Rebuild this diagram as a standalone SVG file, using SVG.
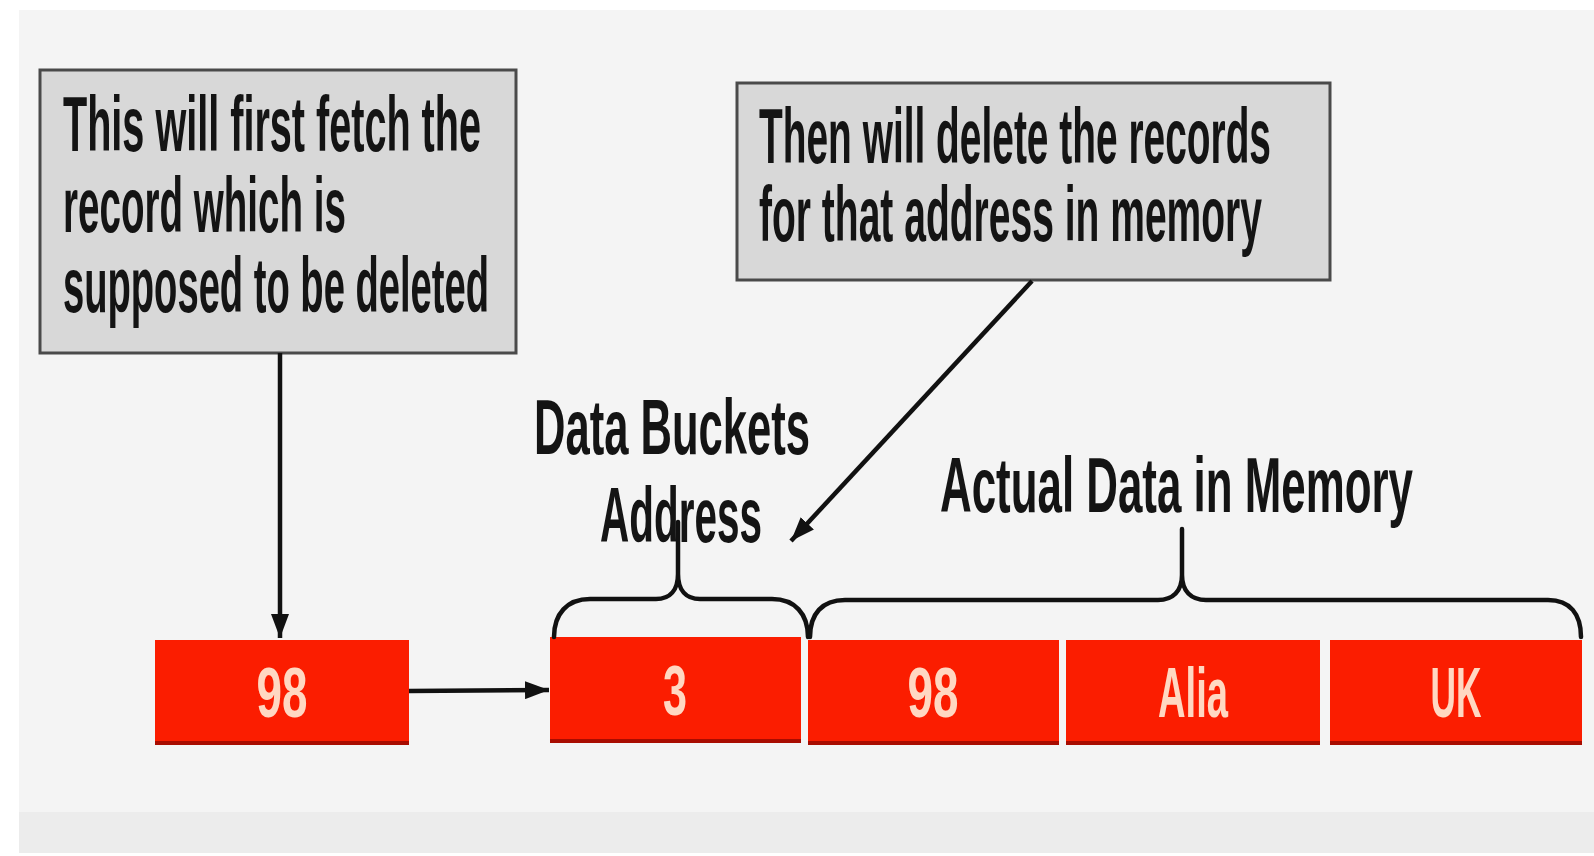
<svg xmlns="http://www.w3.org/2000/svg" width="1594" height="856" viewBox="0 0 1594 856">
  <style>
    .note rect { fill: #d8d8d8; stroke: #4a4a4a; stroke-width: 3; }
    .txt { font-family: "Liberation Sans", Arial, sans-serif; font-weight: bold; fill: #141414; }
    .big { font-size: 78px; }
    .cell rect.body { fill: #fb1d00; }
    .cell rect.edge { fill: #a80c00; }
    .cell text { font-family: "Liberation Sans", Arial, sans-serif; font-weight: bold; font-size: 71px; fill: #ffd8c2; text-anchor: middle; }
    .wire { fill: none; stroke: #111; stroke-width: 4.5; }
    .brace { fill: none; stroke: #111; stroke-width: 4.5; stroke-linejoin: round; stroke-linecap: round; }
  </style>
  <defs>
    <marker id="head" viewBox="0 0 24 18" refX="24" refY="9" markerWidth="24" markerHeight="18" markerUnits="userSpaceOnUse" orient="auto">
      <path d="M0,0 L24,9 L0,18 Z" fill="#111"/>
    </marker>
  </defs>

  <!-- backdrop -->
  <rect x="0" y="0" width="1594" height="856" fill="#ffffff"/>
  <rect x="19" y="10" width="1575" height="843" fill="#f4f4f4"/>
  <rect x="19" y="812" width="1575" height="41" fill="#ececec"/>

  <!-- callout: fetch step -->
  <g id="note-fetch" class="note">
    <rect x="40" y="70" width="476" height="283"/>
    <text class="txt big" x="63" y="151" textLength="418" lengthAdjust="spacingAndGlyphs">This will first fetch the</text>
    <text class="txt big" x="63" y="232" textLength="283" lengthAdjust="spacingAndGlyphs">record which is</text>
    <text class="txt big" x="63" y="312" textLength="426" lengthAdjust="spacingAndGlyphs">supposed to be deleted</text>
  </g>

  <!-- callout: delete step -->
  <g id="note-delete" class="note">
    <rect x="737" y="83" width="593" height="197"/>
    <text class="txt big" x="759" y="163" textLength="512" lengthAdjust="spacingAndGlyphs">Then will delete the records</text>
    <text class="txt big" x="759" y="241" textLength="503" lengthAdjust="spacingAndGlyphs">for that address in memory</text>
  </g>

  <!-- index entry -->
  <g id="cell-key" class="cell">
    <rect class="body" x="155" y="640" width="254" height="105"/>
    <rect class="edge" x="155" y="741" width="254" height="4"/>
    <text x="282" y="717" textLength="51" lengthAdjust="spacingAndGlyphs">98</text>
  </g>

  <!-- bucket address -->
  <g id="cell-address" class="cell">
    <rect class="body" x="550" y="637" width="251" height="106"/>
    <rect class="edge" x="550" y="739" width="251" height="4"/>
    <text x="675" y="715" textLength="24" lengthAdjust="spacingAndGlyphs">3</text>
  </g>

  <!-- stored record fields -->
  <g id="cell-id" class="cell">
    <rect class="body" x="808" y="640" width="251" height="105"/>
    <rect class="edge" x="808" y="741" width="251" height="4"/>
    <text x="933" y="717" textLength="51" lengthAdjust="spacingAndGlyphs">98</text>
  </g>
  <g id="cell-name" class="cell">
    <rect class="body" x="1066" y="640" width="254" height="105"/>
    <rect class="edge" x="1066" y="741" width="254" height="4"/>
    <text x="1193" y="717" textLength="70" lengthAdjust="spacingAndGlyphs">Alia</text>
  </g>
  <g id="cell-country" class="cell">
    <rect class="body" x="1330" y="640" width="252" height="105"/>
    <rect class="edge" x="1330" y="741" width="252" height="4"/>
    <text x="1456" y="717" textLength="51" lengthAdjust="spacingAndGlyphs">UK</text>
  </g>

  <!-- brace labels -->
  <g id="label-bucket">
    <path class="brace" d="M554,637 C554,614 567,599 590,599 L656,599 C670,599 678,590 678,574 L678,522 M678,574 C678,590 686,599 700,599 L772,599 C795,599 808,614 808,637"/>
    <text class="txt big" x="534" y="454" textLength="276" lengthAdjust="spacingAndGlyphs">Data Buckets</text>
    <text class="txt big" x="600" y="542" textLength="162" lengthAdjust="spacingAndGlyphs">Address</text>
  </g>
  <g id="label-data">
    <path class="brace" d="M810,637 C810,614 822,600 845,600 L1158,600 C1173,600 1182,591 1182,575 L1182,529 M1182,575 C1182,591 1191,600 1206,600 L1548,600 C1570,600 1581,614 1581,637"/>
    <text class="txt big" x="940" y="512" textLength="473" lengthAdjust="spacingAndGlyphs">Actual Data in Memory</text>
  </g>

  <!-- connectors -->
  <g id="connectors">
    <line class="wire" x1="280" y1="353" x2="280" y2="638" marker-end="url(#head)"/>
    <line class="wire" x1="409" y1="691" x2="549" y2="690" stroke-width="5" marker-end="url(#head)"/>
    <line class="wire" x1="1032" y1="281" x2="791" y2="541" marker-end="url(#head)"/>
  </g>
</svg>
